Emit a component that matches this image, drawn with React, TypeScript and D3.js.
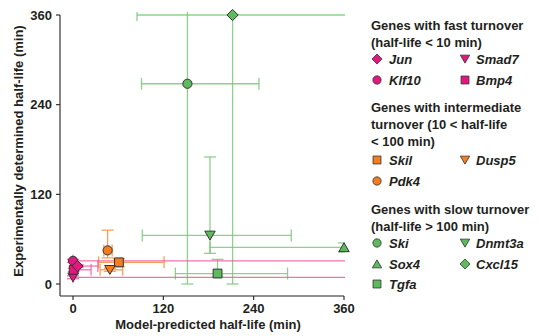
import React from "react";
import * as d3 from "d3";

type Gene = {
  name: string;
  shape: string;
  x: number;
  y: number;
  xLo: number;
  xHi: number;
  yLo: number;
  yHi: number;
};

// Genes with fast turnover
const fastGenes: Gene[] = [
  { name: "Klf10", shape: "circle", x: 0, y: 31, xLo: 0, xHi: 500, yLo: 29, yHi: 33 },
  { name: "Smad7", shape: "triDown", x: 0, y: 9, xLo: 0, xHi: 500, yLo: 7, yHi: 11 },
  { name: "Bmp4", shape: "square", x: 1, y: 19, xLo: 0, xHi: 24, yLo: 17, yHi: 21 },
  { name: "Jun", shape: "diamond", x: 6, y: 24, xLo: 0, xHi: 33, yLo: 22, yHi: 26 },
];
// Genes with intermediate turnover
const midGenes: Gene[] = [
  { name: "Skil", shape: "square", x: 61, y: 29, xLo: 34, xHi: 121, yLo: 23, yHi: 34 },
  { name: "Dusp5", shape: "triDown", x: 49, y: 19, xLo: 36, xHi: 66, yLo: 17, yHi: 21 },
  { name: "Pdk4", shape: "circle", x: 46, y: 45, xLo: 41, xHi: 52, yLo: 35, yHi: 72 },
];
// Genes with slow turnover
const slowGenes: Gene[] = [
  { name: "Ski", shape: "circle", x: 152, y: 268, xLo: 91, xHi: 247, yLo: 0, yHi: 500 },
  { name: "Dnmt3a", shape: "triDown", x: 182, y: 65, xLo: 92, xHi: 290, yLo: 41, yHi: 170 },
  { name: "Sox4", shape: "triUp", x: 360, y: 49, xLo: 182, xHi: 500, yLo: 43, yHi: 55 },
  { name: "Cxcl15", shape: "diamond", x: 212, y: 360, xLo: 85, xHi: 500, yLo: 0, yHi: 500 },
  { name: "Tgfa", shape: "square", x: 192, y: 14, xLo: 136, xHi: 285, yLo: 9, yHi: 33 },
];

const xTicks = [0, 120, 240, 360];
const yTicks = [0, 120, 240, 360];

const groups = [
  { genes: fastGenes, fill: "#e2187f", line: "#ee5a9f" },
  { genes: midGenes, fill: "#f47d20", line: "#f7913f" },
  { genes: slowGenes, fill: "#5dba5d", line: "#78ca78" },
];

const legendFast = [
  ["diamond", "Jun"], ["triDown", "Smad7"], ["circle", "Klf10"], ["square", "Bmp4"],
];
const legendMid = [["square", "Skil"], ["triDown", "Dusp5"], ["circle", "Pdk4"]];
const legendSlow = [
  ["circle", "Ski"], ["triDown", "Dnmt3a"], ["triUp", "Sox4"], ["diamond", "Cxcl15"], ["square", "Tgfa"],
];

const FONT = "'Liberation Sans', Arial, Helvetica, sans-serif";
const TXT = "#231f20";

function shapePath(shape: string): string {
  switch (shape) {
    case "circle": {
      const r = 4.6;
      return `M${r},0A${r},${r} 0 1,1 ${-r},0A${r},${r} 0 1,1 ${r},0Z`;
    }
    case "square":
      return "M-4.4,-4.4L4.4,-4.4L4.4,4.4L-4.4,4.4Z";
    case "diamond":
      return "M0,-5.6L5.6,0L0,5.6L-5.6,0Z";
    case "triDown":
      return "M-5.2,-4.3L5.2,-4.3L0,4.6Z";
    case "triUp":
      return "M-5.2,4.3L5.2,4.3L0,-4.6Z";
  }
  return "";
}

export default function App() {
  const x = d3.scaleLinear().domain([0, 360]).range([73, 344]);
  const y = d3.scaleLinear().domain([0, 360]).range([284, 15]);
  const axX0 = 60;
  const axY0 = 296;
  const cap = 6;
  const FS = 13;

  const errorBars = (g: Gene, color: string, key: string) => {
    const cx = x(g.x);
    const cy = y(g.y);
    const x1 = x(g.xLo), x2 = x(g.xHi);
    const y1 = y(g.yLo), y2 = y(g.yHi);
    return (
      <g key={key} stroke={color} strokeWidth={1.3} strokeOpacity={0.85} fill="none">
        <line x1={x1} x2={x2} y1={cy} y2={cy} />
        <line x1={x1} x2={x1} y1={cy - cap} y2={cy + cap} />
        <line x1={x2} x2={x2} y1={cy - cap} y2={cy + cap} />
        <line x1={cx} x2={cx} y1={y1} y2={y2} />
        <line x1={cx - cap} x2={cx + cap} y1={y1} y2={y1} />
        <line x1={cx - cap} x2={cx + cap} y1={y2} y2={y2} />
      </g>
    );
  };

  const legendBlock = (
    titles: string[],
    items: string[][],
    fill: string,
    titleY: number[],
    rowY: number[],
    key: string
  ) => (
    <g key={key}>
      {titles.map((t, i) => (
        <text key={i} x={371} y={titleY[i]} dominantBaseline="central" fontSize={FS} fontWeight="bold" fill={TXT}>
          {t}
        </text>
      ))}
      {items.map((it, i) => {
        const col = i % 2;
        const row = Math.floor(i / 2);
        const mx = col === 0 ? 377 : 465;
        const tx = col === 0 ? 389 : 476;
        const yy = rowY[row];
        return (
          <g key={it[1]}>
            <path d={shapePath(it[0])} transform={`translate(${mx},${yy}) scale(0.9)`} fill={fill} stroke="#333" strokeWidth={0.9} />
            <text x={tx} y={yy} dominantBaseline="central" fontSize={FS} fontWeight="bold" fontStyle="italic" fill={TXT}>
              {it[1]}
            </text>
          </g>
        );
      })}
    </g>
  );

  return (
    <svg width={539} height={336} style={{ position: "absolute", left: 0, top: 0 }} fontFamily={FONT}>
      <rect width={539} height={336} fill="#fff" />
      <defs>
        <clipPath id="plotclip">
          <rect x={axX0} y={12} width={345 - axX0} height={axY0 - 12} />
        </clipPath>
      </defs>
      <g stroke="#231f20" strokeWidth={1.1}>
        <line x1={axX0} x2={axX0} y1={y(360)} y2={axY0} />
        <line x1={axX0} x2={x(360)} y1={axY0} y2={axY0} />
        {yTicks.map((t) => (
          <line key={"yt" + t} x1={axX0 - 4} x2={axX0} y1={y(t)} y2={y(t)} />
        ))}
        {xTicks.map((t) => (
          <line key={"xt" + t} x1={x(t)} x2={x(t)} y1={axY0} y2={axY0 + 4} />
        ))}
      </g>
      {yTicks.map((t) => (
        <text key={"yl" + t} x={52} y={y(t)} textAnchor="end" dominantBaseline="central" fontSize={FS} fontWeight="bold" fill={TXT}>
          {t}
        </text>
      ))}
      {xTicks.map((t) => (
        <text key={"xl" + t} x={x(t)} y={308} textAnchor="middle" dominantBaseline="central" fontSize={FS} fontWeight="bold" fill={TXT}>
          {t}
        </text>
      ))}
      <text x={208} y={324} textAnchor="middle" dominantBaseline="central" fontSize={FS} fontWeight="bold" fill={TXT}>
        Model-predicted half-life (min)
      </text>
      <text transform="translate(18,151) rotate(-90)" textAnchor="middle" dominantBaseline="central" fontSize={FS} fontWeight="bold" fill={TXT}>
        Experimentally determined half-life (min)
      </text>

      <g clipPath="url(#plotclip)">
        {[...groups].reverse().map((gr, gi) => gr.genes.map((g) => errorBars(g, gr.line, gi + g.name)))}
      </g>
      <g>
        {[...groups].reverse().map((gr) =>
          gr.genes.map((g) => (
            <path
              key={"m" + g.name}
              d={shapePath(g.shape)}
              transform={`translate(${x(g.x)},${y(g.y)})`}
              fill={gr.fill}
              stroke="#333"
              strokeWidth={1}
            />
          ))
        )}
      </g>

      {legendBlock(
        ["Genes with fast turnover", "(half-life < 10 min)"],
        legendFast,
        groups[0].fill,
        [25, 42],
        [59, 80],
        "lf"
      )}
      {legendBlock(
        ["Genes with intermediate", "turnover (10 < half-life", "< 100 min)"],
        legendMid,
        groups[1].fill,
        [107, 124, 141],
        [160, 181],
        "lm"
      )}
      {legendBlock(
        ["Genes with slow turnover", "(half-life > 100 min)"],
        legendSlow,
        groups[2].fill,
        [209, 226],
        [243, 264, 284],
        "ls"
      )}
    </svg>
  );
}
